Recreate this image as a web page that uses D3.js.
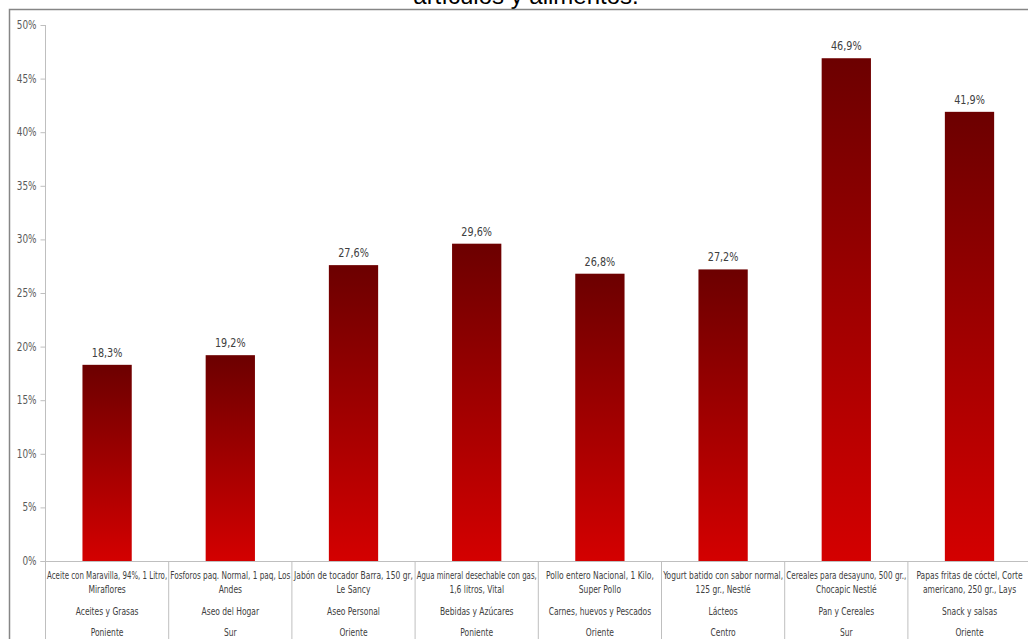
<!DOCTYPE html>
<html>
<head>
<meta charset="utf-8">
<script src="https://cdn.jsdelivr.net/npm/d3@7"></script>
<style>
  body { margin: 0; background: #fff; }
  svg { display: block; }
</style>
</head>
<body>
<div id="chart"></div>
<script>
// Chart data
var products = [
    ["Aceite con Maravilla, 94%, 1 Litro,", "Miraflores"],
    ["Fosforos paq. Normal, 1 paq, Los", "Andes"],
    ["Jabón de tocador  Barra, 150 gr,", "Le Sancy"],
    ["Agua mineral desechable con gas,", "1,6 litros, Vital"],
    ["Pollo entero Nacional, 1 Kilo,", "Super Pollo"],
    ["Yogurt  batido  con sabor normal,", "125 gr., Nestlé"],
    ["Cereales para desayuno, 500 gr.,", "Chocapic Nestlé"],
    ["Papas fritas de cóctel, Corte", "americano, 250 gr., Lays"]
];
var categories = ["Aceites y Grasas", "Aseo del Hogar", "Aseo Personal", "Bebidas y Azúcares",
    "Carnes, huevos y Pescados", "Lácteos", "Pan y Cereales", "Snack y salsas"];
var regions = ["Poniente", "Sur", "Oriente", "Poniente", "Oriente", "Centro", "Sur", "Oriente"];
var values = [18.3, 19.2, 27.6, 29.6, 26.8, 27.2, 46.9, 41.9];
var yTicks = [0, 5, 10, 15, 20, 25, 30, 35, 40, 45, 50];
var titleText = "artículos y alimentos.";

var width = 1028, height = 639;
var left = 45.5, bandW = 123.2;
var font = "'DejaVu Sans Condensed', 'Liberation Sans', sans-serif";

var svg = d3.select("#chart").append("svg")
    .attr("width", width)
    .attr("height", height);

//gradient for bars
var grad = svg.append("defs").append("linearGradient")
    .attr("id", "barGrad")
    .attr("x1", 0).attr("y1", 0).attr("x2", 0).attr("y2", 1);
grad.append("stop").attr("offset", "0%").attr("stop-color", "#6c0000");
grad.append("stop").attr("offset", "100%").attr("stop-color", "#d40000");

//title (cut at top, as in the picture)
svg.append("text")
    .attr("x", 526).attr("y", 4)
    .attr("text-anchor", "middle")
    .attr("font-family", "'Liberation Sans', Arial, sans-serif")
    .attr("font-size", 24)
    .attr("fill", "#000")
    .text(titleText);

//chart frame
svg.append("rect")
    .attr("x", 9.5).attr("y", 9.5)
    .attr("width", 1040).attr("height", 700)
    .attr("fill", "none")
    .attr("stroke", "#868686")
    .attr("stroke-width", 1.5);

//scales
var xScale = d3.scaleBand()
    .domain(d3.range(values.length))
    .range([left, left + bandW * values.length]);

var yScale = d3.scaleLinear()
    .domain([0, 50])
    .range([561, 25]);

//adds a horizontally squeezed text (narrow font look, like Calibri)
function narrowText(parent, x, y, str, size, anchor, sx){
    return parent.append("text")
        .attr("transform", "translate(" + x + "," + y + ") scale(" + sx + ",1)")
        .attr("text-anchor", anchor)
        .attr("font-family", font)
        .attr("font-size", size)
        .attr("fill", "#404040")
        .text(str);
}

//Y axis (ticks from d3, labels drawn squeezed)
var yAxis = d3.axisLeft(yScale)
    .tickValues(yTicks)
    .tickSize(5)
    .tickFormat("");

var gy = svg.append("g")
    .attr("transform", "translate(" + left + ",0)")
    .call(yAxis);
gy.select(".domain").remove();
gy.selectAll("line").attr("stroke", "#bfbfbf");

yTicks.forEach(function(t){
    narrowText(svg, left - 9, yScale(t) + 4, t + "%", 11.5, "end", 0.86)
        .attr("fill", "#595959");
});

//axis lines
svg.append("line")
    .attr("x1", left).attr("x2", left)
    .attr("y1", yScale(50)).attr("y2", height)
    .attr("stroke", "#bfbfbf");
svg.append("line")
    .attr("x1", left - 5).attr("x2", width)
    .attr("y1", yScale(0) + 0.5).attr("y2", yScale(0) + 0.5)
    .attr("stroke", "#bfbfbf");

//category separators
svg.selectAll(".sep")
    .data(d3.range(1, values.length + 1))
    .enter().append("line")
    .attr("x1", function(d){ return xScale(d - 1) + xScale.bandwidth(); })
    .attr("x2", function(d){ return xScale(d - 1) + xScale.bandwidth(); })
    .attr("y1", yScale(0))
    .attr("y2", height)
    .attr("stroke", "#bfbfbf");

//bars
var barW = xScale.bandwidth() * 0.4;
svg.selectAll(".bar")
    .data(values)
    .enter().append("rect")
    .attr("x", function(d, i){ return xScale(i) + (xScale.bandwidth() - barW) / 2; })
    .attr("y", function(d){ return yScale(d); })
    .attr("width", barW)
    .attr("height", function(d){ return yScale(0) - yScale(d); })
    .attr("fill", "url(#barGrad)");

//value labels
values.forEach(function(v, i){
    narrowText(svg, xScale(i) + xScale.bandwidth() / 2, yScale(v) - 8,
        v.toFixed(1).replace(".", ",") + "%", 12.5, "middle", 0.86);
});

//label rows below axis
function addRow(data, y){
    data.forEach(function(d, i){
        var t = narrowText(svg, xScale(i) + xScale.bandwidth() / 2, y, d, 10.5, "middle", 1);
        var w = t.node().getComputedTextLength();
        var sx = Math.min(0.8, (xScale.bandwidth() - 3) / w);
        t.attr("transform", "translate(" + (xScale(i) + xScale.bandwidth() / 2) + "," + y + ") scale(" + sx + ",1)");
    });
}
addRow(products.map(function(p){ return p[0]; }), 579);
addRow(products.map(function(p){ return p[1]; }), 593);
addRow(categories, 615);
addRow(regions, 636);
</script>
</body>
</html>
